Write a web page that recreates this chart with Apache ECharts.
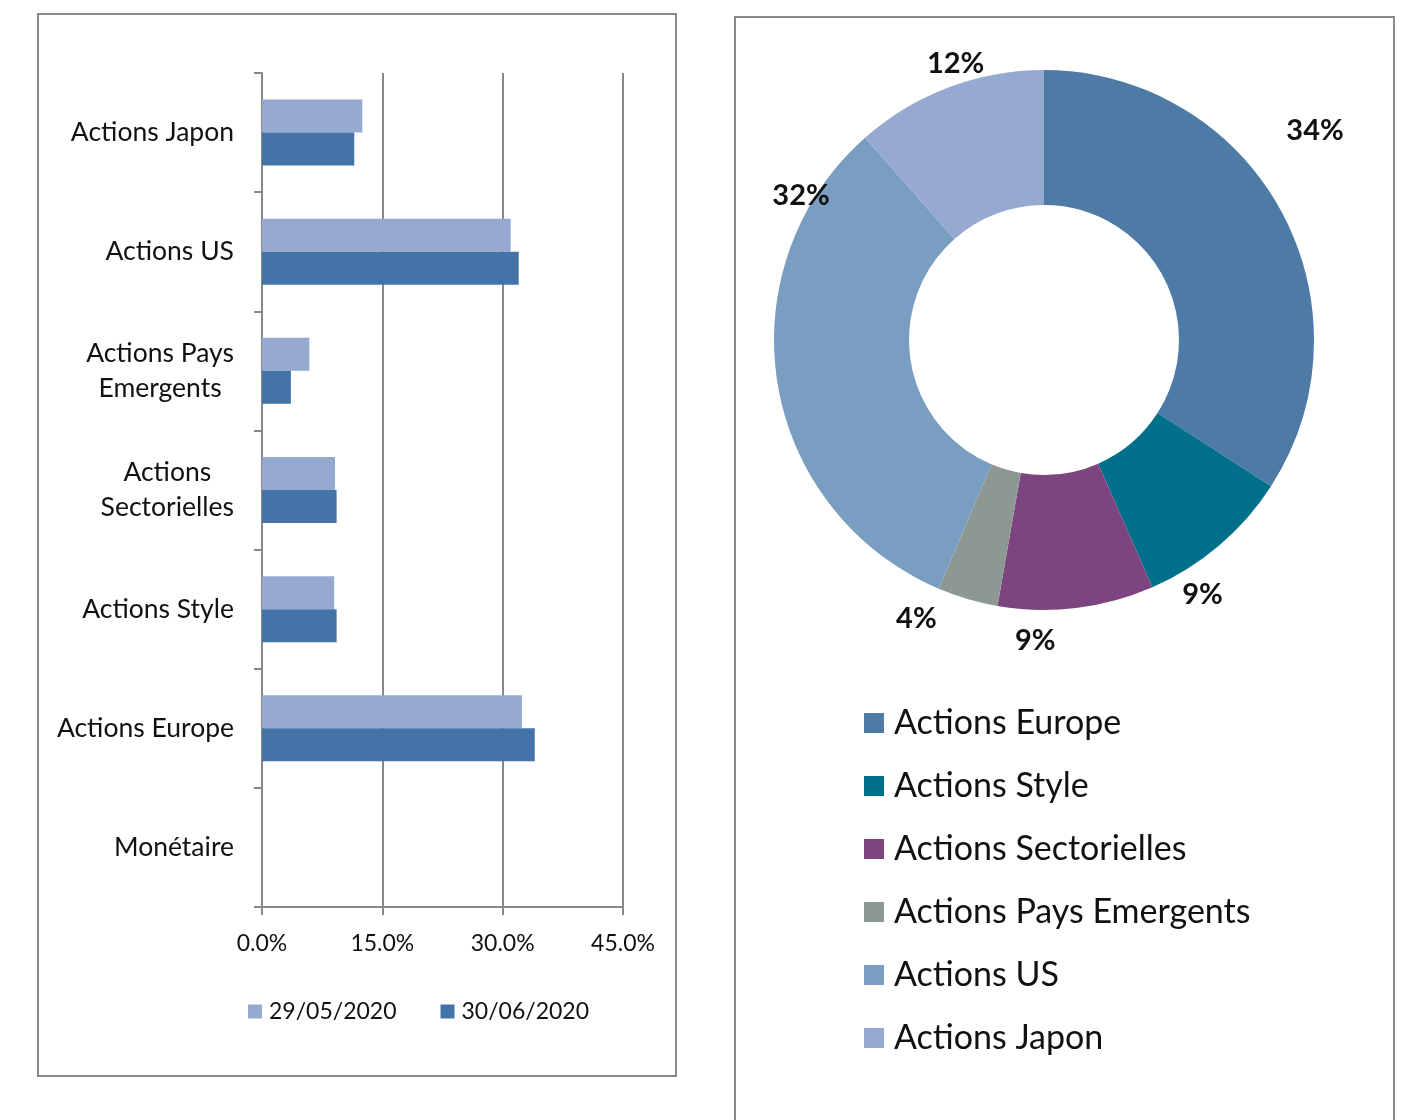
<!DOCTYPE html>
<html>
<head>
<meta charset="utf-8">
<script src="https://cdn.jsdelivr.net/npm/echarts@6/dist/echarts.min.js"></script>
<style>
  html, body { margin: 0; padding: 0; background: #fff; }
  #main { width: 1403px; height: 1120px; }
</style>
</head>
<body>
<div id="main"></div>
<script>
// categories du graphique en barres (haut -> bas)
const categories = ["Actions Japon", "Actions US", "Actions Pays\nEmergents", "Actions\nSectorielles", "Actions Style", "Actions Europe", "Monétaire"];
const dates = ["29/05/2020", "30/06/2020"];
const valMai = [12.5, 31.0, 5.9, 9.1, 9.0, 32.4, 0];
const valJuin = [11.5, 32.0, 3.6, 9.3, 9.3, 34.0, 0];
const xTicks = [0, 15, 30, 45];

// donut (30/06/2020)
const pieNames = ["Actions Europe", "Actions Style", "Actions Sectorielles", "Actions Pays Emergents", "Actions US", "Actions Japon"];
const pieValues = [34.0, 9.3, 9.3, 3.6, 32.0, 11.5];
const pieColors = ["#4E7BA5", "#00708A", "#7D4580", "#8E9893", "#7A9EC2", "#95A9D1"];
// décalage des étiquettes (placées à la main dans l'original)
const labelShift = [[-12, -73], [-51, 38], [-68, 19], [-22, 6], [71, -190], [46, -11]];

const font = "Lato, 'Open Sans', sans-serif";
const chart = echarts.init(document.getElementById("main"));

const option = {
  animation: false,
  textStyle: { fontFamily: font },
  graphic: [
    { type: "rect", shape: { x: 38, y: 14, width: 638, height: 1062 }, style: { fill: "none", stroke: "#8a8a8a", lineWidth: 2 } },
    { type: "rect", shape: { x: 735, y: 17, width: 659, height: 1120 }, style: { fill: "none", stroke: "#8a8a8a", lineWidth: 2 } }
  ],
  grid: { left: 262, right: 780, top: 73, bottom: 213 },
  legend: [
    {
      data: dates,
      left: 243,
      top: 995,
      icon: "rect",
      itemWidth: 14,
      itemHeight: 14,
      itemGap: 44,
      textStyle: { fontSize: 23, color: "#111", fontFamily: font, padding: [0, 0, 0, 2] }
    },
    {
      data: pieNames,
      orient: "vertical",
      left: 859,
      top: 701,
      icon: "rect",
      itemWidth: 20,
      itemHeight: 20,
      itemGap: 29,
      textStyle: { fontSize: 34, color: "#111", fontFamily: font, padding: [0, 0, 0, 5] }
    }
  ],
  xAxis: {
    type: "value",
    min: 0,
    max: 45,
    interval: 15,
    axisLine: { show: true, lineStyle: { color: "#888", width: 2 } },
    axisTick: { show: true, length: 8, lineStyle: { color: "#888", width: 2 } },
    splitLine: { lineStyle: { color: "#888", width: 2 } },
    axisLabel: {
      margin: 25,
      fontSize: 23,
      color: "#111",
      formatter: v => xTicks.includes(v) ? v.toFixed(1) + "%" : ""
    }
  },
  yAxis: {
    type: "category",
    inverse: true,
    data: categories,
    axisLine: { lineStyle: { color: "#888", width: 2 } },
    axisTick: { show: true, length: 8, lineStyle: { color: "#888", width: 2 } },
    axisLabel: {
      margin: 28,
      align: "right",
      formatter: v => v.split("\n").map(s => "{c|" + s + "}").join("\n"),
      rich: { c: { align: "center", fontSize: 26.5, lineHeight: 35, color: "#111", fontFamily: font } }
    }
  },
  series: [
    { name: dates[0], type: "bar", data: valMai, barWidth: 33, barGap: "0%", itemStyle: { color: "#95A9D1" } },
    { name: dates[1], type: "bar", data: valJuin, barWidth: 33, barGap: "0%", itemStyle: { color: "#4473A8" } },
    {
      name: "Répartition",
      type: "pie",
      center: [1044, 340],
      radius: [135, 270],
      startAngle: 90,
      clockwise: true,
      percentPrecision: 0,
      data: pieNames.map((n, i) => ({ name: n, value: pieValues[i], itemStyle: { color: pieColors[i] } })),
      label: {
        show: true,
        position: "outside",
        formatter: "{d}%",
        fontSize: 29,
        fontWeight: "bold",
        color: "#111",
        fontFamily: font
      },
      labelLine: { show: false, length: 14, length2: 0 },
      labelLayout: p => ({ dx: labelShift[p.dataIndex][0], dy: labelShift[p.dataIndex][1] })
    }
  ]
};
chart.setOption(option);
</script>
</body>
</html>
